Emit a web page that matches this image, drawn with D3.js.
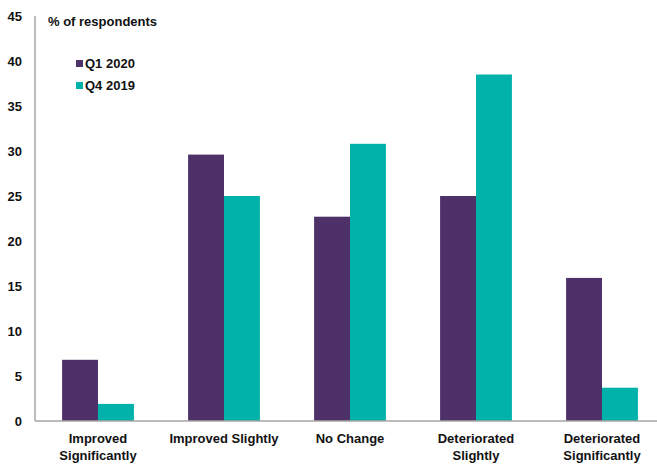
<!DOCTYPE html>
<html>
<head>
<meta charset="utf-8">
<script src="https://cdn.jsdelivr.net/npm/d3@7"></script>
<style>
  body { margin: 0; background: #fff; }
  text { font-family: "Liberation Sans", Arial, sans-serif; font-weight: bold; fill: #111; }
</style>
</head>
<body>
<div id="chart"></div>
<script>
var width = 657;
var height = 464;

var categories = [['Improved', 'Significantly'], ['Improved Slightly'], ['No Change'], ['Deteriorated', 'Slightly'], ['Deteriorated', 'Significantly']];
var seriesNames = ['Q1 2020', 'Q4 2019'];
var q1_2020 = [6.8, 29.6, 22.7, 25.0, 15.9];
var q4_2019 = [1.9, 25.0, 30.8, 38.5, 3.7];
var yTicks = [0, 5, 10, 15, 20, 25, 30, 35, 40, 45];
var colors = ['#4e3169', '#00b2a9'];

var margin = { top: 16, right: -8, bottom: 43, left: 35 };
var chartHeight = height - margin.top - margin.bottom;
var chartWidth = width - margin.left - margin.right;

var svg = d3.select('#chart').append('svg')
    .attr('width', width)
    .attr('height', height)
    .append('g')
    .attr('transform', `translate(${margin.left}, ${margin.top})`);

var idx = d3.range(categories.length);

var xScale = d3.scaleBand()
    .domain(idx)
    .range([0, chartWidth])
    .paddingInner(0.43)
    .paddingOuter(0.215);

var xInner = d3.scaleBand()
    .domain([0, 1])
    .range([0, xScale.bandwidth()]);

var yScale = d3.scaleLinear()
    .domain([0, 45])
    .range([chartHeight, 0]);

// y tick labels (no line ticks)
var yAxis_g = svg.append('g')
    .call(d3.axisLeft(yScale).tickValues(yTicks).tickSize(0).tickPadding(13));
yAxis_g.select('.domain').remove();
yAxis_g.selectAll('text')
    .style('font-size', '13px')
    .style('font-family', '"Liberation Sans", Arial, sans-serif')
    .style('font-weight', 'bold')
    .attr('fill', '#111');

var series = [q1_2020, q4_2019];
series.forEach(function (vals, s) {
    svg.append('g').selectAll('rect')
        .data(vals)
        .enter()
        .append('rect')
        .attr('x', (d, i) => xScale(i) + xInner(s))
        .attr('y', d => yScale(d))
        .attr('width', xInner.bandwidth())
        .attr('height', d => chartHeight - yScale(d))
        .attr('fill', colors[s]);
});

// axis lines
svg.append('line')
    .attr('x1', 0).attr('x2', 0)
    .attr('y1', 0).attr('y2', chartHeight)
    .attr('stroke', '#a6a6a6').attr('stroke-width', 1.5);
svg.append('line')
    .attr('x1', 0).attr('x2', chartWidth)
    .attr('y1', chartHeight).attr('y2', chartHeight)
    .attr('stroke', '#a6a6a6').attr('stroke-width', 1.5);

// category labels
var catLabels = svg.append('g').selectAll('text')
    .data(categories)
    .enter()
    .append('text')
    .attr('text-anchor', 'middle')
    .attr('x', (d, i) => xScale(i) + xScale.bandwidth() / 2)
    .attr('y', chartHeight + 22)
    .style('font-size', '13px');
catLabels.selectAll('tspan')
    .data(d => d)
    .enter()
    .append('tspan')
    .attr('x', function () { return d3.select(this.parentNode).attr('x'); })
    .attr('dy', (d, i) => i === 0 ? 0 : 17)
    .text(d => d);

// title
svg.append('text')
    .attr('x', 13)
    .attr('y', 10)
    .style('font-size', '13px')
    .text('% of respondents');

// legend
var legend = svg.append('g').attr('transform', 'translate(41, 44)');
seriesNames.forEach(function (name, s) {
    legend.append('rect')
        .attr('x', 0)
        .attr('y', s * 22)
        .attr('width', 7)
        .attr('height', 7)
        .attr('fill', colors[s]);
    legend.append('text')
        .attr('x', 9)
        .attr('y', s * 22 + 8)
        .style('font-size', '13px')
        .text(name);
});
</script>
</body>
</html>
